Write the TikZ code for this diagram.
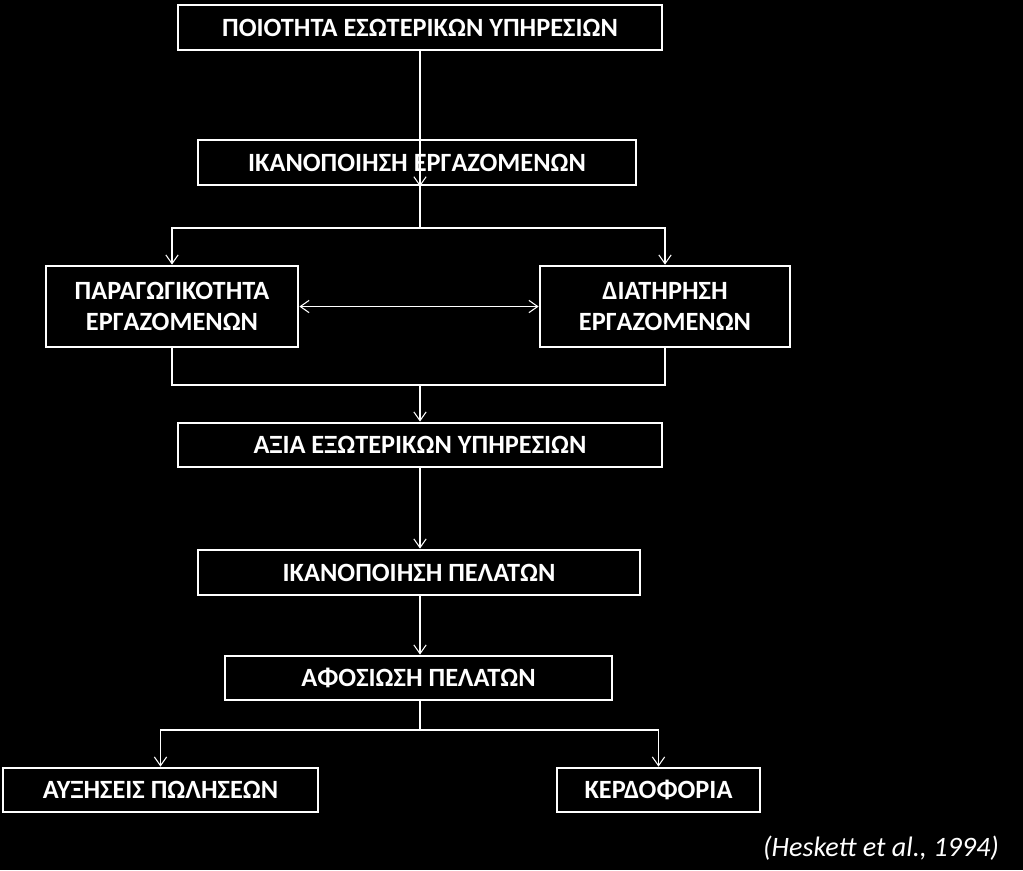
\documentclass[tikz,border=0pt]{standalone}
\usepackage{fontspec}
\setmainfont{Carlito}
\usetikzlibrary{arrows.meta}
\tikzset{
  stage/.style={draw=white,line width=1.6pt,text=white,font=\bfseries\fontsize{15}{18}\selectfont,
    inner sep=0pt,align=center},
  link/.style={draw=white,line width=0.6pt,-{Straight Barb[length=5pt,width=7pt]}},
  plain/.style={draw=white,line width=0.6pt}
}
\begin{document}
\begin{tikzpicture}[x=0.02cm,y=-0.02cm]
  \fill[black] (0,0) rectangle (1023,870);
  \useasboundingbox (0,0) rectangle (1023,870);

  \node[stage,minimum width=484*0.02cm,minimum height=45*0.02cm] (Q) at (420,27.5) {ΠΟΙΟΤΗΤΑ ΕΣΩΤΕΡΙΚΩΝ ΥΠΗΡΕΣΙΩΝ};
  \node[stage,minimum width=438*0.02cm,minimum height=45*0.02cm] (S) at (417,162.5) {ΙΚΑΝΟΠΟΙΗΣΗ ΕΡΓΑΖΟΜΕΝΩΝ};
  \node[stage,minimum width=252*0.02cm,minimum height=81*0.02cm] (P) at (172,306.5) {ΠΑΡΑΓΩΓΙΚΟΤΗΤΑ\\ΕΡΓΑΖΟΜΕΝΩΝ};
  \node[stage,minimum width=250*0.02cm,minimum height=81*0.02cm] (D) at (665,306.5) {ΔΙΑΤΗΡΗΣΗ\\ΕΡΓΑΖΟΜΕΝΩΝ};
  \node[stage,minimum width=484*0.02cm,minimum height=44*0.02cm] (A) at (420,445) {ΑΞΙΑ ΕΞΩΤΕΡΙΚΩΝ ΥΠΗΡΕΣΙΩΝ};
  \node[stage,minimum width=442*0.02cm,minimum height=45*0.02cm] (C) at (419,572.5) {ΙΚΑΝΟΠΟΙΗΣΗ ΠΕΛΑΤΩΝ};
  \node[stage,minimum width=387*0.02cm,minimum height=44*0.02cm] (L) at (418.5,678) {ΑΦΟΣΙΩΣΗ ΠΕΛΑΤΩΝ};
  \node[stage,minimum width=315*0.02cm,minimum height=44*0.02cm] (G) at (160.5,790) {ΑΥΞΗΣΕΙΣ ΠΩΛΗΣΕΩΝ};
  \node[stage,minimum width=203*0.02cm,minimum height=44*0.02cm] (K) at (658.5,790) {ΚΕΡΔΟΦΟΡΙΑ};
  \node[text=white,font=\itshape\fontsize{16}{19}\selectfont,anchor=east] (R) at (1005,848) {(Heskett et al., 1994)};

  \coordinate (s1) at (420,228);
  \coordinate (m1) at (420,385);
  \coordinate (l1) at (420,730);

  \draw[link] (Q.south -| s1) -- (S.south -| s1 |- S.north);
  \draw[plain] (S.south -| s1) -- (s1);
  \draw[link] (s1) -| (P.north);
  \draw[link] (s1) -| (D.north);
  \draw[link,{Straight Barb[length=5pt,width=7pt]}-{Straight Barb[length=5pt,width=7pt]}] (P.east) -- (D.west);
  \draw[plain] (P.south) |- (m1) -| (D.south);
  \draw[link] (m1) -- (m1 |- A.north);
  \draw[link] (A.south -| m1) -- (m1 |- C.north);
  \draw[link] (C.south -| m1) -- (m1 |- L.north);
  \draw[plain] (L.south -| l1) -- (l1);
  \draw[link] (l1) -| (G.north);
  \draw[link] (l1) -| (K.north);
\end{tikzpicture}
\end{document}
